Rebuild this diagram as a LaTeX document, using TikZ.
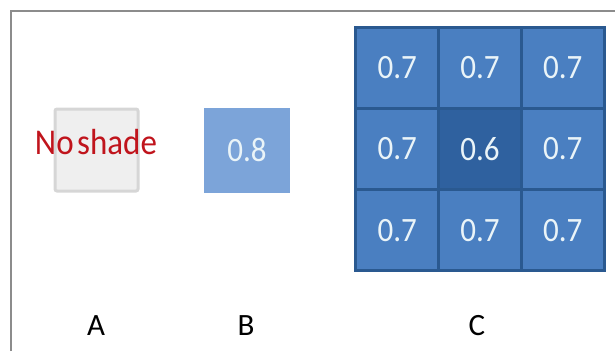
\documentclass[tikz,border=0pt]{standalone}
\usepackage{fontspec}
\usepackage{graphicx}
\setmainfont{Carlito}
\definecolor{framegray}{HTML}{8C8C8C}
\definecolor{afill}{HTML}{EFEFEF}
\definecolor{aline}{HTML}{D6D6D6}
\definecolor{bfill}{HTML}{7CA4D9}
\definecolor{cellfill}{HTML}{4A7FC1}
\definecolor{cellmid}{HTML}{2F619F}
\definecolor{gridline}{HTML}{2A5990}
\definecolor{celltext}{HTML}{EAF4F8}
\definecolor{shadered}{HTML}{C0141C}
\newcommand{\tall}[1]{\scalebox{1}[1.1]{#1}}
\tikzset{
  bigfont/.style={font=\fontsize{31}{33}\selectfont},
  cellbox/.style={bigfont, draw=gridline, fill=cellfill, line width=3pt, text=celltext,
    inner sep=0pt, minimum width=82.7pt, minimum height=81.3pt},
  label/.style={bigfont, text=black, anchor=base},
}
\begin{document}
\begin{tikzpicture}[x=1pt,y=-1pt]
\useasboundingbox (0,0) rectangle (615,351);
% frame (only left and top visible)
\coordinate (fbl) at (11,351);
\coordinate (ftl) at (11,11);
\coordinate (ftr) at (615,11);
\draw[framegray, line width=2pt] (fbl) -- (ftl) -- (ftr);
% A
\node[draw=aline, fill=afill, line width=3pt, rounded corners=2pt, minimum width=83pt, minimum height=82pt, inner sep=0pt] (boxA) at (96.5,150) {};
\node[font=\fontsize{33}{35}\selectfont, text=shadered, anchor=base, inner sep=0pt] (noshade) at (96,154) {\tall{No\hspace{-0.12em} shade}};
% B
\node[fill=bfill, minimum width=86pt, minimum height=85pt, inner sep=0pt, bigfont, text=celltext] (boxB) at (247,150) {\tall{0.8}};
% C grid
\node[cellbox] (c11) at (397.3,67.7) {\tall{0.7}};
\node[cellbox] (c12) at (480,67.7) {\tall{0.7}};
\node[cellbox] (c13) at (562.7,67.7) {\tall{0.7}};
\node[cellbox] (c21) at (397.3,149) {\tall{0.7}};
\node[cellbox, fill=cellmid] (c22) at (480,149) {\tall{0.6}};
\node[cellbox] (c23) at (562.7,149) {\tall{0.7}};
\node[cellbox] (c31) at (397.3,230.3) {\tall{0.7}};
\node[cellbox] (c32) at (480,230.3) {\tall{0.7}};
\node[cellbox] (c33) at (562.7,230.3) {\tall{0.7}};
% labels
\node[label] (labA) at (96,335) {A};
\node[label] (labB) at (246,335) {B};
\node[label] (labC) at (477,335) {C};
\end{tikzpicture}
\end{document}
